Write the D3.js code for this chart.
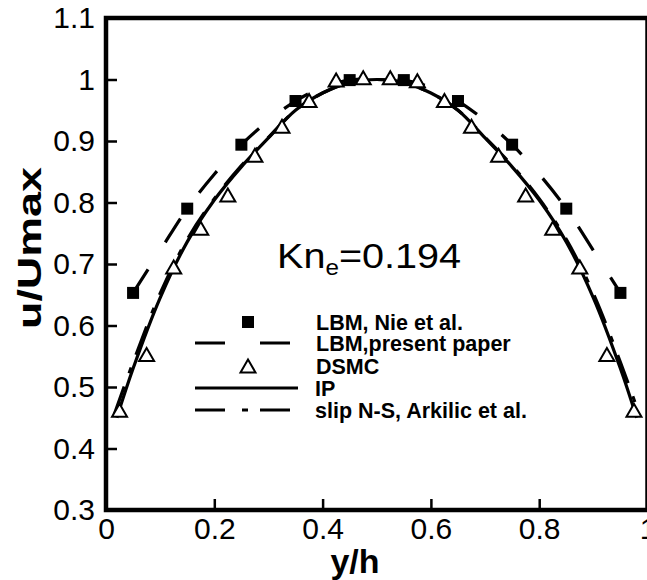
<!DOCTYPE html>
<html>
<head>
<meta charset="utf-8">
<style>
  body { margin: 0; background: #fff; }
  svg { display: block; font-family: "Liberation Sans", Arial, Helvetica, sans-serif; }
</style>
</head>
<body>
<svg id="draw"></svg>

<script src="https://cdn.jsdelivr.net/npm/d3@7/dist/d3.min.js"></script>

<script>
    var width = 647;
    var height = 580;

    // LBM, Nie et al. (filled squares)
    var xNie = [0.05, 0.15, 0.25, 0.35, 0.45, 0.55, 0.65, 0.75, 0.85, 0.95];
    var uNie = [0.653, 0.790, 0.894, 0.965, 0.999, 0.999, 0.965, 0.894, 0.790, 0.653];

    // DSMC (open triangles)
    var xDsmc = [0.025, 0.075, 0.125, 0.175, 0.225, 0.275, 0.325, 0.375, 0.425, 0.475,
                 0.525, 0.575, 0.625, 0.675, 0.725, 0.775, 0.825, 0.875, 0.925, 0.975];
    var uDsmc = [0.462, 0.553, 0.695, 0.758, 0.812, 0.877, 0.924, 0.966, 0.999, 1.003,
                 1.003, 0.998, 0.966, 0.924, 0.877, 0.812, 0.758, 0.695, 0.553, 0.462];

    // LBM, present paper (long dashes)
    var xLbm = [0.05, 0.1, 0.15, 0.2, 0.25, 0.3, 0.35, 0.4, 0.45, 0.5,
                0.55, 0.6, 0.65, 0.7, 0.75, 0.8, 0.85, 0.9, 0.95];
    var uLbm = [0.653, 0.722, 0.790, 0.846, 0.894, 0.933, 0.965, 0.987, 0.999, 1.001,
                0.999, 0.987, 0.965, 0.933, 0.894, 0.846, 0.790, 0.722, 0.653];

    // IP (solid)
    var xIp = [0.02, 0.05, 0.1, 0.15, 0.2, 0.25, 0.3, 0.35, 0.4, 0.45, 0.5,
               0.55, 0.6, 0.65, 0.7, 0.75, 0.8, 0.85, 0.9, 0.95, 0.98];
    var uIp = [0.450, 0.530, 0.645, 0.736, 0.804, 0.858, 0.905, 0.950, 0.978, 0.995, 1.000,
               0.995, 0.978, 0.950, 0.905, 0.858, 0.804, 0.736, 0.645, 0.530, 0.450];

    // slip N-S, Arkilic et al. (dash-dot)
    var xSlip = [0.015, 0.05, 0.1, 0.15, 0.2, 0.25, 0.3, 0.35, 0.4, 0.45, 0.5,
                 0.55, 0.6, 0.65, 0.7, 0.75, 0.8, 0.85, 0.9, 0.95, 0.985];
    var uSlip = [0.455, 0.540, 0.652, 0.740, 0.806, 0.860, 0.906, 0.950, 0.978, 0.995, 1.000,
                 0.995, 0.978, 0.950, 0.906, 0.860, 0.806, 0.740, 0.652, 0.540, 0.455];

    var xTicks = [0, 0.2, 0.4, 0.6, 0.8, 1];
    var yTicks = [0.3, 0.4, 0.5, 0.6, 0.7, 0.8, 0.9, 1, 1.1];

    var legendLabels = ["LBM, Nie et al.", "LBM,present paper", "DSMC", "IP", "slip N-S, Arkilic et al."];

    var x = d3.scaleLinear().domain([0, 1]).range([106, 647.5]);
    var y = d3.scaleLinear().domain([0.3, 1.1]).range([510, 18]);

    const svg = d3.select("svg#draw")
      .attr("width", width)
      .attr("height", height);

    var zip = (xs, ys) => xs.map((v, i) => [v, ys[i]]);
    var line = d3.line()
      .x(d => x(d[0]))
      .y(d => y(d[1]))
      .curve(d3.curveCatmullRom);

    var triPath = "M0,-7L7.5,6L-7.5,6Z";

    // curves
    svg.append("path")
      .attr("d", line(zip(xLbm, uLbm)))
      .attr("fill", "none").attr("stroke", "#000").attr("stroke-width", 3.2)
      .attr("stroke-dasharray", "28,32");

    svg.append("path")
      .attr("d", line(zip(xSlip, uSlip)))
      .attr("fill", "none").attr("stroke", "#000").attr("stroke-width", 3.2)
      .attr("stroke-dasharray", "30,14,6,14");

    svg.append("path")
      .attr("d", line(zip(xIp, uIp)))
      .attr("fill", "none").attr("stroke", "#000").attr("stroke-width", 3.2);

    // markers
    svg.append("g").selectAll("rect")
      .data(zip(xNie, uNie))
      .join("rect")
        .attr("x", d => x(d[0]) - 6)
        .attr("y", d => y(d[1]) - 6)
        .attr("width", 12).attr("height", 12)
        .attr("fill", "#000");

    svg.append("g").selectAll("path")
      .data(zip(xDsmc, uDsmc))
      .join("path")
        .attr("d", triPath)
        .attr("transform", d => `translate(${x(d[0])},${y(d[1]) + 0.5})`)
        .attr("fill", "#fff").attr("stroke", "#000").attr("stroke-width", 2);

    // axes
    var xAxis = svg.append("g")
      .attr("transform", `translate(0,${y(0.3)})`)
      .call(d3.axisBottom(x).tickValues(xTicks).tickSize(-11).tickPadding(8)
            .tickFormat(d => d3.format("")(d)));
    var yAxis = svg.append("g")
      .attr("transform", `translate(${x(0)},0)`)
      .call(d3.axisLeft(y).tickValues(yTicks).tickSize(-11).tickPadding(11)
            .tickFormat(d => d3.format("")(+d.toFixed(1))));

    [xAxis, yAxis].forEach(a => {
      a.select(".domain").remove();
      a.selectAll(".tick line").attr("stroke", "#000").attr("stroke-width", 2.5);
      a.selectAll(".tick text")
        .attr("fill", "#000")
        .style("font-size", "30px")
        .style("font-family", "Liberation Sans, Arial, sans-serif");
    });
    yAxis.selectAll(".tick").filter(d => d == 0.3 || d == 1.1).select("line").remove();
    xAxis.selectAll(".tick").filter(d => d == 0 || d == 1).select("line").remove();

    // frame
    svg.append("rect")
      .attr("x", x(0)).attr("y", y(1.1))
      .attr("width", x(1) - x(0)).attr("height", y(0.3) - y(1.1))
      .attr("fill", "none").attr("stroke", "#000").attr("stroke-width", 4.5);

    // axis titles
    svg.append("text")
      .attr("transform", "translate(41,248) rotate(-90)")
      .attr("text-anchor", "middle")
      .attr("textLength", 162).attr("lengthAdjust", "spacingAndGlyphs")
      .style("font-size", "34px").style("font-weight", "bold")
      .text("u/Umax");

    svg.append("text")
      .attr("x", 355).attr("y", 573)
      .attr("text-anchor", "middle")
      .style("font-size", "34px").style("font-weight", "bold")
      .text("y/h");

    // annotation
    var kn = svg.append("text")
      .attr("transform", "translate(277,268) scale(1.1,1)")
      .style("font-size", "36px");
    kn.append("tspan").text("Kn");
    kn.append("tspan").attr("dy", 7).style("font-size", "22px").text("e");
    kn.append("tspan").attr("dy", -7).text("=0.194");

    // legend
    var legY = [322, 343, 366, 388, 410];
    var leg = svg.append("g");
    leg.append("rect").attr("x", 242).attr("y", legY[0] - 6).attr("width", 12).attr("height", 12).attr("fill", "#000");
    leg.append("line").attr("x1", 195).attr("x2", 290).attr("y1", legY[1]).attr("y2", legY[1])
      .attr("stroke", "#000").attr("stroke-width", 3).attr("stroke-dasharray", "30,35");
    leg.append("path").attr("d", triPath).attr("transform", `translate(248,${legY[2] + 0.5})`)
      .attr("fill", "#fff").attr("stroke", "#000").attr("stroke-width", 2);
    leg.append("line").attr("x1", 195).attr("x2", 298).attr("y1", legY[3]).attr("y2", legY[3])
      .attr("stroke", "#000").attr("stroke-width", 3);
    leg.append("line").attr("x1", 195).attr("x2", 290).attr("y1", legY[4]).attr("y2", legY[4])
      .attr("stroke", "#000").attr("stroke-width", 3).attr("stroke-dasharray", "30,17,6,12");

    leg.selectAll("text")
      .data(legendLabels)
      .join("text")
        .attr("x", (d, i) => i < 3 ? 316 : 315)
        .attr("y", (d, i) => legY[i] + 7.5)
        .style("font-size", "21.5px").style("font-weight", "bold")
        .text(d => d);
</script>
</body>
</html>
